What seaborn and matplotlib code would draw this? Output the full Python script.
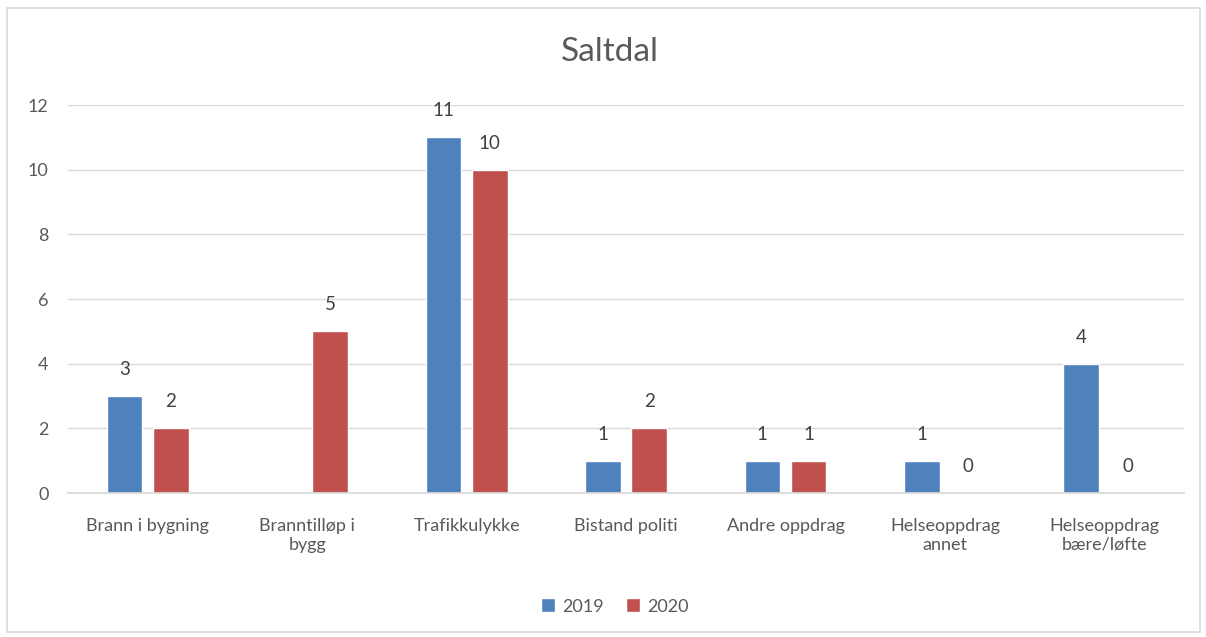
import pandas as pd
import numpy as np
import matplotlib
matplotlib.use("Agg")
import matplotlib.pyplot as plt
from matplotlib.patches import Rectangle
import seaborn as sns

# Data
kategorier = ["Brann i bygning", "Branntilløp i\nbygg", "Trafikkulykke", "Bistand politi",
              "Andre oppdrag", "Helseoppdrag\nannet", "Helseoppdrag\nbære/løfte"]
verdier_2019 = [3, np.nan, 11, 1, 1, 1, 4]
verdier_2020 = [2, 5, 10, 2, 1, 0, 0]
aar = ["2019", "2020"]
farger = {"2019": "#4F81BD", "2020": "#C0504D"}

df = pd.DataFrame({
    "Kategori": kategorier * 2,
    "År": [aar[0]] * len(kategorier) + [aar[1]] * len(kategorier),
    "Antall": verdier_2019 + verdier_2020,
})

sns.set_theme(style="white")
plt.rcParams['font.family'] = ['Lato', 'DejaVu Sans']
tekstfarge = "#595959"

fig = plt.figure(figsize=(12.06, 6.37), dpi=100)
ax = fig.add_axes([0.0564, 0.226, 0.9254, 0.609])

sns.barplot(data=df, x="Kategori", y="Antall", hue="År", palette=farger,
            order=kategorier, hue_order=aar, width=0.58, gap=0.23,
            saturation=1, ax=ax)

# Verdier over søylene
for c in ax.containers:
    ax.bar_label(c, fmt="%g", padding=13, fontsize=13.5, color="#404040")

ax.set_ylim(0, 12)
ax.set_yticks(range(0, 13, 2))
ax.set_xlim(-0.5, len(kategorier) - 0.5)
ax.yaxis.grid(True, color="#D9D9D9", linewidth=1)
ax.set_axisbelow(True)
for s in ["top", "right", "left"]:
    ax.spines[s].set_visible(False)
ax.spines["bottom"].set_color("#D9D9D9")
ax.tick_params(axis="y", length=0, pad=14, labelsize=13, labelcolor=tekstfarge)
ax.tick_params(axis="x", length=0, pad=18, labelsize=13, labelcolor=tekstfarge)
ax.set_xlabel("")
ax.set_ylabel("")

# Tittel sentrert på hele figuren
fig.text(0.506, 0.918, "Saltdal", fontsize=24, color=tekstfarge, ha="center", va="center")

handles, labels = ax.get_legend_handles_labels()
ax.get_legend().remove()
fig.legend(handles, labels, loc="center", bbox_to_anchor=(0.51, 0.048), ncol=2,
           frameon=False, fontsize=13, handlelength=0.8, handleheight=0.8,
           handletextpad=0.4, columnspacing=1.2, labelcolor=tekstfarge)

# Ramme rundt hele diagrammet
fig.patches.append(Rectangle((0.006, 0.008), 0.989, 0.979, transform=fig.transFigure,
                             fill=False, edgecolor="#D9D9D9", linewidth=1.2))

plt.savefig("out.png", dpi=100)
